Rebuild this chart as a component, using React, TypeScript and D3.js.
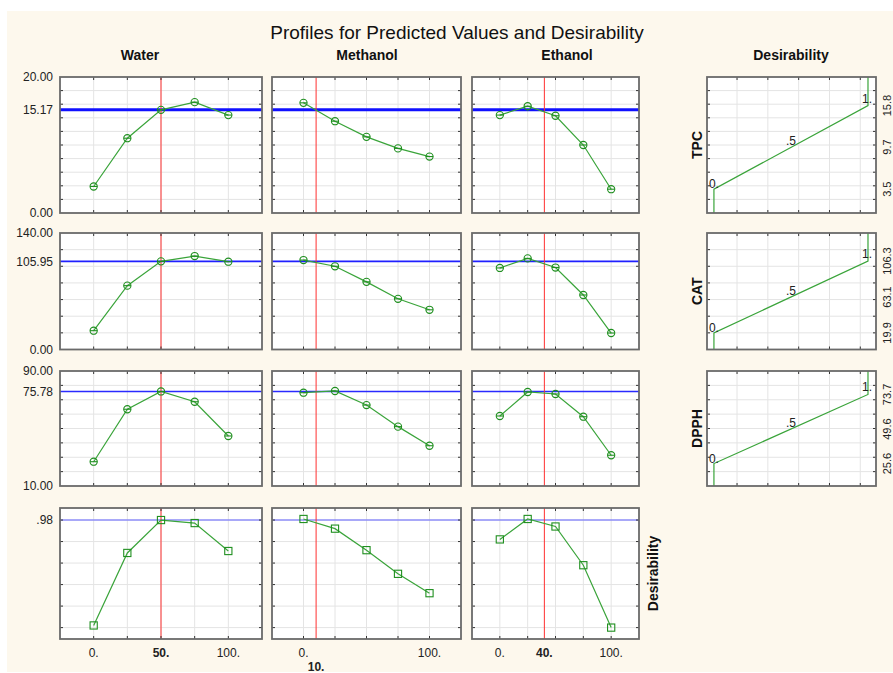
import React from "react";
import * as d3 from "d3";

// factor levels and current settings
const solvents = ["Water", "Methanol", "Ethanol"];
const levels = [0, 25, 50, 75, 100];
const current = [50, 10, 40];

const responses = ["TPC", "CAT", "DPPH", "Desirability"];

// predicted profiles, one array per response x solvent
const tpcWater = [3.9, 11.0, 15.17, 16.3, 14.4];
const tpcMethanol = [16.2, 13.5, 11.2, 9.5, 8.3];
const tpcEthanol = [14.4, 15.7, 14.3, 10.0, 3.5];
const catWater = [22.6, 76.7, 105.95, 112.3, 105.5];
const catMethanol = [107.5, 100.0, 81.3, 60.9, 47.7];
const catEthanol = [98.0, 109.5, 98.5, 65.5, 19.8];
const dpphWater = [26.9, 63.4, 75.78, 68.6, 44.8];
const dpphMethanol = [74.9, 76.1, 66.3, 51.3, 38.0];
const dpphEthanol = [58.7, 75.4, 74.0, 58.2, 31.4];
const desWater = [0.49, 0.827, 0.98, 0.966, 0.836];
const desMethanol = [0.985, 0.94, 0.84, 0.73, 0.64];
const desEthanol = [0.89, 0.985, 0.95, 0.77, 0.48];

const profiles = [
  [tpcWater, tpcMethanol, tpcEthanol],
  [catWater, catMethanol, catEthanol],
  [dpphWater, dpphMethanol, dpphEthanol],
  [desWater, desMethanol, desEthanol],
];

const predicted = [15.17, 105.95, 75.78, 0.98];
const predictedLabels = ["15.17", "105.95", "75.78", ".98"];
const yDomains = [[0, 20], [0, 140], [10, 90], [0.427, 1.036]];
const yTicks = [
  [2, 4, 6, 8, 10, 12, 14, 16, 18],
  [20, 40, 60, 80, 100, 120],
  [20, 30, 40, 50, 60, 70, 80],
  [0.48, 0.58, 0.68, 0.78, 0.88, 0.98],
];
const yEndLabels = [["20.00", "0.00"], ["140.00", "0.00"], ["90.00", "10.00"], []];

// desirability functions (low, medium, high response values)
const desLow = [3.5, 19.9, 25.6];
const desMid = [9.7, 63.1, 49.6];
const desHigh = [15.8, 106.3, 73.7];
const desLowLabels = ["3.5", "19.9", "25.6"];
const desMidLabels = ["9.7", "63.1", "49.6"];
const desHighLabels = ["15.8", "106.3", "73.7"];
const desGrid = [0.15, 0.35, 0.55, 0.75, 0.95];

const colX = [[60, 262], [272, 461], [472, 639]];
const desX = [707, 876];
const rowY = [[213, 77], [349.5, 233], [486, 371], [639, 508]];
const colTitleX = [140, 367, 567];

const FONT = "'Liberation Sans', Arial, sans-serif";
const GREEN = "#3aa43a";
const MARK = "#1f8f1f";
const FRAME = "#6a6a6a";
const GRID = "#e4e4e4";
const blueW = [3, 1.6, 1.6, 1.1];
const blueC = ["#1010ff", "#2020ff", "#2a2aff", "#6060ff"];

function Frame({ x0, x1, y0, y1, xt, yt }: any) {
  return (
    <g>
      <rect x={x0} y={y1} width={x1 - x0} height={y0 - y1} fill="#fff" />
      {xt.map((v: number, i: number) => (
        <line key={"gx" + i} x1={v} x2={v} y1={y1} y2={y0} stroke={GRID} />
      ))}
      {yt.map((v: number, i: number) => (
        <line key={"gy" + i} x1={x0} x2={x1} y1={v} y2={v} stroke={GRID} />
      ))}
    </g>
  );
}

function FrameTicks({ x0, x1, y0, y1, xt, yt }: any) {
  return (
    <g stroke="#333" strokeWidth={1}>
      {xt.map((v: number, i: number) => (
        <g key={"tx" + i}>
          <line x1={v} x2={v} y1={y1} y2={y1 + 3} />
          <line x1={v} x2={v} y1={y0} y2={y0 - 3} />
        </g>
      ))}
      {yt.map((v: number, i: number) => (
        <g key={"ty" + i}>
          <line x1={x0} x2={x0 + 3} y1={v} y2={v} />
          <line x1={x1} x2={x1 - 3} y1={v} y2={v} />
        </g>
      ))}
      <rect x={x0} y={y1} width={x1 - x0} height={y0 - y1} fill="none" stroke={FRAME} strokeWidth={1.8} />
    </g>
  );
}

export default function App() {
  const xScales = colX.map((r) => d3.scaleLinear().domain([-25, 125]).range(r));
  const yScales = rowY.map((r, i) => d3.scaleLinear().domain(yDomains[i]).range(r));
  const dScale = d3.scaleLinear().domain([-0.045, 1.052]).range(desX);

  return (
    <div style={{ position: "fixed", left: 0, top: 0 }}>
      <svg width={893} height={673} fontFamily={FONT}>
        <rect width={893} height={673} fill="#fff" />
        <rect x={7} y={11} width={886} height={661} fill="#fdf8ed" />
        <text x={457} y={39} fontSize={19} textAnchor="middle" fill="#111">
          Profiles for Predicted Values and Desirability
        </text>
        {solvents.map((s, c) => (
          <text key={s} x={colTitleX[c]} y={60} fontSize={14} fontWeight="bold" textAnchor="middle" fill="#111">
            {s}
          </text>
        ))}
        <text x={791} y={60} fontSize={14} fontWeight="bold" textAnchor="middle" fill="#111">
          Desirability
        </text>

        {responses.map((resp, r) => {
          const y = yScales[r];
          const yt = yTicks[r].map((v) => y(v));
          return (
            <g key={resp}>
              {solvents.map((s, c) => {
                const x = xScales[c];
                const xt = levels.map((v) => x(v));
                const [x0, x1] = colX[c];
                const [y0, y1] = rowY[r];
                const vals = profiles[r][c];
                const line = d3.line<number>().x((d, i) => x(levels[i])).y((d) => y(d));
                return (
                  <g key={s}>
                    <Frame x0={x0} x1={x1} y0={y0} y1={y1} xt={xt} yt={yt} />
                    <line x1={x0} x2={x1} y1={y(predicted[r])} y2={y(predicted[r])} stroke={blueC[r]} strokeWidth={blueW[r]} />
                    <line x1={x(current[c])} x2={x(current[c])} y1={y1} y2={y0} stroke="#ff3030" strokeWidth={1} />
                    <path d={line(vals) || ""} fill="none" stroke={GREEN} strokeWidth={1.2} />
                    {vals.map((v, i) =>
                      r < 3 ? (
                        <g key={i} stroke={MARK} fill="none" strokeWidth={1.1}>
                          <circle cx={x(levels[i])} cy={y(v)} r={3.6} />
                          <line x1={x(levels[i]) - 3.6} x2={x(levels[i]) + 3.6} y1={y(v)} y2={y(v)} />
                        </g>
                      ) : (
                        <rect key={i} x={x(levels[i]) - 3.6} y={y(v) - 3.6} width={7.2} height={7.2} fill="none" stroke={MARK} strokeWidth={1.1} />
                      )
                    )}
                    <FrameTicks x0={x0} x1={x1} y0={y0} y1={y1} xt={xt} yt={yt} />
                  </g>
                );
              })}

              {/* y axis labels on the left */}
              <g fontSize={12} textAnchor="end" fill="#222">
                {yEndLabels[r].length > 0 && (
                  <text x={53} y={rowY[r][1]} dy="0.35em">{yEndLabels[r][0]}</text>
                )}
                <text x={53} y={y(predicted[r])} dy="0.35em">{predictedLabels[r]}</text>
                {yEndLabels[r].length > 0 && (
                  <text x={53} y={rowY[r][0]} dy="0.35em">{yEndLabels[r][1]}</text>
                )}
              </g>

              {/* desirability function column */}
              {r < 3 ? (
                <g>
                  <Frame x0={desX[0]} x1={desX[1]} y0={rowY[r][0]} y1={rowY[r][1]} xt={desGrid.map((d) => dScale(d))} yt={yt} />
                  <path
                    d={
                      d3.line<number[]>().x((d) => dScale(d[0])).y((d) => y(d[1]))([
                        [0, yDomains[r][0]],
                        [0, desLow[r]],
                        [1, desHigh[r]],
                        [1, yDomains[r][1]],
                      ]) || ""
                    }
                    fill="none"
                    stroke={GREEN}
                    strokeWidth={1.2}
                  />
                  <FrameTicks x0={desX[0]} x1={desX[1]} y0={rowY[r][0]} y1={rowY[r][1]} xt={desGrid.map((d) => dScale(d))} yt={yt} />
                  <g fontSize={12} fill="#222">
                    <text x={dScale(0) - 5} y={y(desLow[r]) - 1}>0.</text>
                    <text x={dScale(0.5)} y={y(desMid[r]) - 2} textAnchor="middle">.5</text>
                    <text x={dScale(1) + 4} y={y(desHigh[r]) - 3} textAnchor="end">1.</text>
                  </g>
                  <g fontSize={11} fill="#222" textAnchor="middle">
                    {[
                      [desLow[r], desLowLabels[r]],
                      [desMid[r], desMidLabels[r]],
                      [desHigh[r], desHighLabels[r]],
                    ].map(([v, l], i) => (
                      <text key={i} transform={`translate(891,${y(v as number)}) rotate(-90)`}>{l}</text>
                    ))}
                  </g>
                  <text transform={`translate(702,${(rowY[r][0] + rowY[r][1]) / 2}) rotate(-90)`} fontSize={14} fontWeight="bold" textAnchor="middle" fill="#111">
                    {resp}
                  </text>
                </g>
              ) : (
                <text transform={`translate(658,${(rowY[r][0] + rowY[r][1]) / 2}) rotate(-90)`} fontSize={14} fontWeight="bold" textAnchor="middle" fill="#111">
                  {resp}
                </text>
              )}
            </g>
          );
        })}

        {/* x axis labels under the bottom row */}
        {solvents.map((s, c) => {
          const x = xScales[c];
          const crowded = Math.abs(x(current[c]) - x(0)) < 25 || Math.abs(x(current[c]) - x(100)) < 25;
          return (
            <g key={"xl" + s} fontSize={12} textAnchor="middle" fill="#222">
              <text x={x(0)} y={657}>0.</text>
              <text x={x(100)} y={657}>100.</text>
              <text x={x(current[c])} y={crowded ? 671 : 657} fontWeight="bold">{current[c]}.</text>
            </g>
          );
        })}
      </svg>
    </div>
  );
}
